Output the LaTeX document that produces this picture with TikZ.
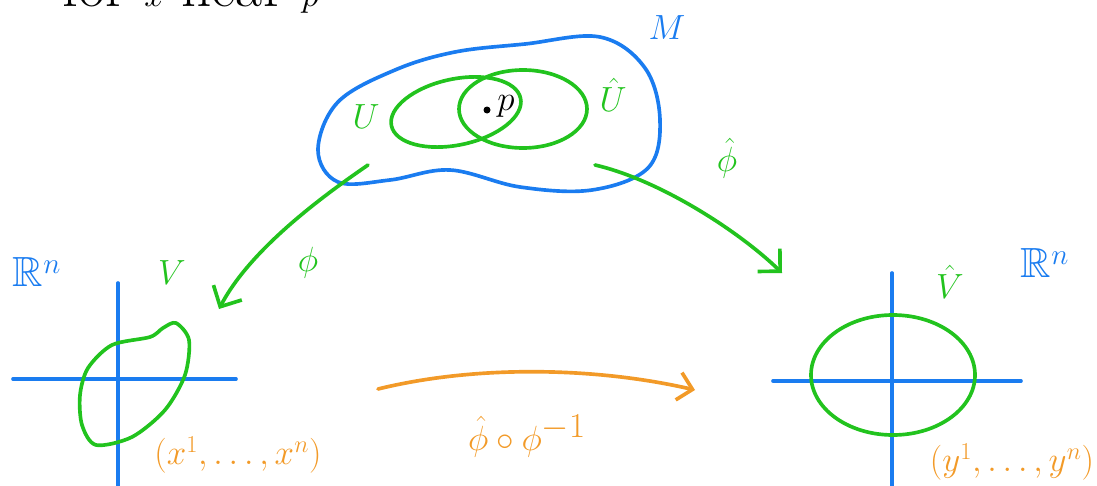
\documentclass[tikz,border=0pt]{standalone}
\usepackage{amsmath}
\usepackage{amssymb}
\usetikzlibrary{arrows.meta}
\definecolor{penblue}{HTML}{1A7CF0}
\definecolor{pengreen}{HTML}{22C31E}
\definecolor{penorange}{HTML}{F29A28}
\tikzset{
  ink/.style={line width=2.6pt, line cap=round, line join=round},
  axisline/.style={ink, draw=penblue},
  setline/.style={ink, draw=pengreen},
  maniline/.style={ink, draw=penblue},
  chartarrow/.style={ink, draw=pengreen, -{Straight Barb[length=4mm,width=8mm]}},
  transarrow/.style={ink, draw=penorange, -{Straight Barb[length=3.5mm,width=7mm]}},
  greenlabel/.style={text=pengreen, inner sep=0pt, font=\fontsize{32}{34}\selectfont},
  bluelabel/.style={text=penblue, inner sep=0pt, font=\fontsize{30}{32}\selectfont},
  coordlabel/.style={text=penorange, inner sep=0pt, font=\fontsize{24}{28}\selectfont},
}

\begin{document}
\begin{tikzpicture}[x=0.025cm, y=-0.025cm]
  \useasboundingbox (0,0) rectangle (1097,486);

  % heading, cut at the top edge
  \node[anchor=base west, inner sep=0pt, font=\fontsize{42}{44}\selectfont] (neartext) at (62,7) {for $x$ near $p$};

  % the manifold
  \draw[maniline] plot[smooth cycle, tension=0.6] coordinates {(318,150) (338,102) (395,70) (455,52) (525,44) (600,37) (645,68) (660,120) (648,168) (592,190) (520,187) (450,170) (390,180) (338,182)};
  \node[bluelabel] (mlabel) at (667,28) {$M$};

  % the two chart domains
  \draw[setline, rotate around={12:(456,112)}] (456,112) ellipse [x radius=66, y radius=33];
  \draw[setline] (523,109) ellipse [x radius=64, y radius=39];
  \node[greenlabel] (ulabel) at (366,117) {$U$};
  \node[greenlabel] (uhatlabel) at (613,95) {$\hat{U}$};
  \fill (487,110) circle [radius=3.5];
  \node[inner sep=0pt, font=\fontsize{26}{28}\selectfont] (plabel) at (506,106) {$p$};

  % left chart
  \node[bluelabel] (rnleft) at (37,272) {$\mathbb{R}^n$};
  \node[greenlabel] (vlabel) at (172,273) {$V$};
  \draw[axisline] (13,379) -- (236,379);
  \draw[axisline] (118,283) -- (118,486);
  \draw[setline] plot[smooth cycle] coordinates {(176,323) (189,340) (185,375) (165,410) (132,437) (96,445) (82,425) (80,395) (88,368) (112,345) (150,337) (163,328)};
  \node[coordlabel] (xcoords) at (238,455) {$(x^1,\dots,x^n)$};

  % right chart
  \node[bluelabel] (rnright) at (1045,263) {$\mathbb{R}^n$};
  \node[greenlabel] (vhatlabel) at (950,282) {$\hat{V}$};
  \draw[axisline] (773,381) -- (1021,381);
  \draw[axisline] (892,273) -- (892,486);
  \draw[setline] (893,375) ellipse [x radius=82, y radius=60];
  \node[coordlabel] (ycoords) at (1012,462) {$(y^1,\dots,y^n)$};

  % chart maps
  \coordinate (phistart) at (368,165);
  \coordinate (phiend) at (219,309);
  \coordinate (phihatstart) at (595,165);
  \coordinate (phihatend) at (782,273);
  \draw[chartarrow] (phistart) .. controls (320,198) and (250,250) .. (phiend);
  \draw[chartarrow] (phihatstart) .. controls (660,180) and (740,232) .. (phihatend);
  \node[greenlabel] (philabel) at (308,263) {$\phi$};
  \node[greenlabel] (phihatlabel) at (727,158) {$\hat{\phi}$};

  % transition map
  \coordinate (transstart) at (378,389);
  \coordinate (transend) at (695,390);
  \draw[transarrow] (transstart) .. controls (480,364) and (600,368) .. (transend);
  \node[coordlabel, font=\fontsize{36}{38}\selectfont] (translabel) at (527,436) {$\hat{\phi}\circ\phi^{-1}$};
\end{tikzpicture}
\end{document}
